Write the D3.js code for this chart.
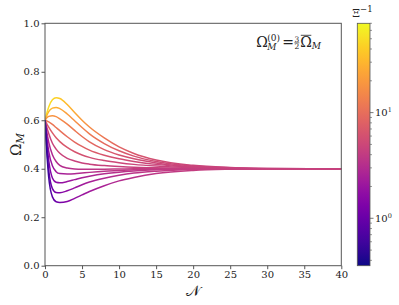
<!DOCTYPE html>
<html>
<head>
<script src="https://d3js.org/d3.v7.min.js"></script>
<style>
  body { margin: 0; background: #fff; }
  text { font-family: "DejaVu Serif", serif; fill: #222; }
  .tick-label { font-size: 10px; }
</style>
</head>
<body>
<svg width="399" height="305"></svg>
<script>
// N grid shared by every curve
const nGrid = [0, 0.25, 0.5, 1, 1.5, 2, 3, 4, 5, 6, 8, 10, 12, 15, 20, 25, 30, 40];

// Omega_M, top curve first
const omega1  = [0.600, 0.630, 0.655, 0.685, 0.693, 0.690, 0.665, 0.632, 0.600, 0.572, 0.527, 0.490, 0.463, 0.436, 0.414, 0.405, 0.401, 0.400];
const omega2  = [0.600, 0.620, 0.636, 0.650, 0.653, 0.648, 0.626, 0.598, 0.570, 0.544, 0.504, 0.474, 0.452, 0.430, 0.411, 0.404, 0.401, 0.400];
const omega3  = [0.600, 0.610, 0.616, 0.619, 0.615, 0.606, 0.584, 0.558, 0.533, 0.511, 0.479, 0.457, 0.441, 0.424, 0.408, 0.403, 0.400, 0.400];
const omega4  = [0.600, 0.597, 0.593, 0.583, 0.570, 0.557, 0.532, 0.510, 0.492, 0.477, 0.456, 0.441, 0.430, 0.418, 0.406, 0.402, 0.400, 0.400];
const omega5  = [0.600, 0.585, 0.572, 0.548, 0.528, 0.512, 0.488, 0.470, 0.457, 0.447, 0.434, 0.425, 0.418, 0.411, 0.404, 0.401, 0.400, 0.400];
const omega6  = [0.600, 0.570, 0.545, 0.505, 0.481, 0.464, 0.443, 0.432, 0.424, 0.419, 0.413, 0.409, 0.406, 0.404, 0.401, 0.400, 0.400, 0.400];
const omega7  = [0.600, 0.550, 0.510, 0.458, 0.430, 0.414, 0.403, 0.399, 0.398, 0.398, 0.398, 0.399, 0.400, 0.400, 0.400, 0.400, 0.400, 0.400];
const omega8  = [0.600, 0.530, 0.472, 0.412, 0.388, 0.380, 0.378, 0.379, 0.382, 0.385, 0.390, 0.393, 0.396, 0.398, 0.400, 0.400, 0.400, 0.400];
const omega9  = [0.600, 0.505, 0.435, 0.362, 0.344, 0.342, 0.347, 0.355, 0.363, 0.369, 0.379, 0.386, 0.391, 0.396, 0.399, 0.400, 0.400, 0.400];
const omega10 = [0.600, 0.485, 0.395, 0.318, 0.302, 0.301, 0.309, 0.321, 0.334, 0.345, 0.361, 0.373, 0.382, 0.390, 0.397, 0.399, 0.400, 0.400];
const omega11 = [0.600, 0.465, 0.365, 0.284, 0.264, 0.261, 0.265, 0.278, 0.292, 0.306, 0.330, 0.350, 0.364, 0.380, 0.393, 0.398, 0.400, 0.400];

// Xi^-1 along each curve (drives the colour)
const xiInv1  = [53, 52, 50, 46, 42, 38, 31, 25, 20, 16.5, 11.5, 8.5, 6.8, 5.6, 4.8, 4.6, 4.5, 4.5];
const xiInv2  = [32.5, 32, 31, 29, 27, 25, 21, 17.5, 14.5, 12.2, 9.2, 7.3, 6.1, 5.3, 4.7, 4.55, 4.5, 4.5];
const xiInv3  = [20, 19.8, 19.4, 18.5, 17.5, 16.3, 14, 12, 10.5, 9.2, 7.5, 6.3, 5.6, 5.0, 4.65, 4.55, 4.5, 4.5];
const xiInv4  = [12.2, 12.1, 12, 11.6, 11.2, 10.7, 9.8, 9.0, 8.2, 7.5, 6.5, 5.7, 5.2, 4.8, 4.6, 4.52, 4.5, 4.5];
const xiInv5  = [7.5, 7.5, 7.4, 7.3, 7.1, 7.0, 6.6, 6.3, 6.0, 5.7, 5.3, 5.0, 4.8, 4.65, 4.55, 4.5, 4.5, 4.5];
const xiInv6  = [4.6, 4.6, 4.6, 4.6, 4.6, 4.6, 4.6, 4.55, 4.55, 4.55, 4.5, 4.5, 4.5, 4.5, 4.5, 4.5, 4.5, 4.5];
const xiInv7  = [2.8, 2.8, 2.85, 2.9, 3.0, 3.05, 3.2, 3.35, 3.5, 3.6, 3.8, 4.0, 4.15, 4.3, 4.45, 4.5, 4.5, 4.5];
const xiInv8  = [1.7, 1.8, 1.9, 2.05, 2.2, 2.35, 2.6, 2.8, 3.0, 3.15, 3.45, 3.7, 3.9, 4.15, 4.35, 4.45, 4.5, 4.5];
const xiInv9  = [1.06, 1.15, 1.25, 1.45, 1.6, 1.75, 2.0, 2.25, 2.45, 2.65, 3.0, 3.35, 3.6, 3.95, 4.3, 4.45, 4.5, 4.5];
const xiInv10 = [0.65, 0.75, 0.85, 1.05, 1.25, 1.4, 1.7, 1.95, 2.2, 2.45, 2.85, 3.2, 3.5, 3.85, 4.25, 4.45, 4.5, 4.5];
const xiInv11 = [0.4, 0.5, 0.62, 0.85, 1.05, 1.2, 1.5, 1.75, 2.0, 2.2, 2.6, 3.0, 3.3, 3.7, 4.15, 4.4, 4.5, 4.5];

const xTicks = [0, 5, 10, 15, 20, 25, 30, 35, 40];
const yTicks = [0, 0.2, 0.4, 0.6, 0.8, 1.0];
const cbMajor = [1, 10];
const cbMinor = [0.4, 0.5, 0.6, 0.7, 0.8, 0.9, 2, 3, 4, 5, 6, 7, 8, 9, 20, 30, 40, 50, 60, 70];
const cbDomain = [0.356, 70];

const omegas = [omega1, omega2, omega3, omega4, omega5, omega6, omega7, omega8, omega9, omega10, omega11];
const xiInvs = [xiInv1, xiInv2, xiInv3, xiInv4, xiInv5, xiInv6, xiInv7, xiInv8, xiInv9, xiInv10, xiInv11];

const svg = d3.select("svg");
const defs = svg.append("defs");
const L = 45, T = 23.3, R = 341.3, B = 265.7;
const axisCol = "#555";

const x = d3.scaleLinear().domain([0, 40]).range([L, R]);
const y = d3.scaleLinear().domain([0, 1]).range([B, T]);
const color = d3.scaleSequentialLog(d3.interpolatePlasma).domain(cbDomain);

defs.append("clipPath").attr("id", "plot-clip")
  .append("rect").attr("x", L).attr("y", T).attr("width", R - L).attr("height", B - T);

// one horizontal gradient per curve, stops at the grid N values
omegas.forEach((om, i) => {
  const g = defs.append("linearGradient")
    .attr("id", "grad" + i)
    .attr("gradientUnits", "userSpaceOnUse")
    .attr("x1", x(0)).attr("x2", x(40)).attr("y1", 0).attr("y2", 0);
  g.selectAll("stop").data(nGrid).join("stop")
    .attr("offset", d => d / 40)
    .attr("stop-color", (d, j) => color(xiInvs[i][j]));
});

const line = d3.line()
  .x(d => x(d[0]))
  .y(d => y(d[1]))
  .curve(d3.curveMonotoneX);

svg.append("g").attr("clip-path", "url(#plot-clip)")
  .selectAll("path").data(omegas).join("path")
    .attr("d", om => line(nGrid.map((n, j) => [n, om[j]])))
    .attr("fill", "none")
    .attr("stroke", (d, i) => `url(#grad${i})`)
    .attr("stroke-width", 1.5);

// frame
svg.append("rect")
  .attr("x", L).attr("y", T).attr("width", R - L).attr("height", B - T)
  .attr("fill", "none").attr("stroke", axisCol).attr("stroke-width", 1);

// x axis
const xa = svg.append("g").attr("transform", `translate(0,${B})`)
  .call(d3.axisBottom(x).tickValues(xTicks).tickSize(3.5).tickPadding(2).tickFormat(d3.format("d")));
xa.select(".domain").remove();
xa.selectAll("line").attr("stroke", axisCol);
xa.selectAll("text").attr("class", "tick-label").attr("fill", "#222");

// y axis
const ya = svg.append("g").attr("transform", `translate(${L},0)`)
  .call(d3.axisLeft(y).tickValues(yTicks).tickSize(3.5).tickPadding(2).tickFormat(d3.format(".1f")));
ya.select(".domain").remove();
ya.selectAll("line").attr("stroke", axisCol);
ya.selectAll("text").attr("class", "tick-label").attr("fill", "#222");

// axis labels
svg.append("text")
  .attr("transform", `translate(21,${(T + B) / 2}) rotate(-90)`)
  .attr("text-anchor", "middle")
  .style("font-size", "15px")
  .html('Ω<tspan dy="3" font-style="italic" font-size="10.5px">M</tspan>');

svg.append("text")
  .attr("x", (L + R) / 2).attr("y", 296)
  .attr("text-anchor", "middle")
  .style("font-size", "15px")
  .text("𝒩");

// annotation  Omega_M^(0) = 3/2 Omega-bar_M
const ann = svg.append("g").attr("transform", `translate(${R - 85},${T + 23.5})`);
ann.append("text").attr("x", 0).attr("y", 0).style("font-size", "14px").text("Ω");
ann.append("text").attr("x", 11).attr("y", -6).style("font-size", "9px").text("(0)");
ann.append("text").attr("x", 11).attr("y", 3).style("font-size", "9px").style("font-style", "italic").text("M");
ann.append("text").attr("x", 26).attr("y", 0).style("font-size", "14px").text("=");
ann.append("text").attr("x", 40.5).attr("y", -5).attr("text-anchor", "middle").style("font-size", "7.5px").text("3");
ann.append("line").attr("x1", 38).attr("x2", 43).attr("y1", -4).attr("y2", -4).attr("stroke", "#222").attr("stroke-width", 0.6);
ann.append("text").attr("x", 40.5).attr("y", 2.5).attr("text-anchor", "middle").style("font-size", "7.5px").text("2");
ann.append("text").attr("x", 44).attr("y", 0).style("font-size", "14px").text("Ω");
ann.append("line").attr("x1", 44.5).attr("x2", 55).attr("y1", -11.5).attr("y2", -11.5).attr("stroke", "#222").attr("stroke-width", 0.8);
ann.append("text").attr("x", 55.5).attr("y", 2.5).style("font-size", "9px").style("font-style", "italic").text("M");

// colorbar
const cbX = 357.3, cbW = 12.7;
const cy = d3.scaleLog().domain(cbDomain).range([B, T]);
const cg = defs.append("linearGradient").attr("id", "cbgrad")
  .attr("x1", 0).attr("x2", 0).attr("y1", 1).attr("y2", 0);
cg.selectAll("stop").data(d3.range(0, 1.0001, 0.05)).join("stop")
  .attr("offset", d => d)
  .attr("stop-color", d => d3.interpolatePlasma(d));
svg.append("rect")
  .attr("x", cbX).attr("y", T).attr("width", cbW).attr("height", B - T)
  .attr("fill", "url(#cbgrad)").attr("stroke", axisCol).attr("stroke-width", 0.8);

const cb = svg.append("g");
cb.selectAll(".minor").data(cbMinor).join("line")
  .attr("x1", cbX + cbW).attr("x2", cbX + cbW + 2)
  .attr("y1", d => cy(d)).attr("y2", d => cy(d))
  .attr("stroke", axisCol).attr("stroke-width", 0.6);
cb.selectAll(".major").data(cbMajor).join("line")
  .attr("x1", cbX + cbW).attr("x2", cbX + cbW + 3.5)
  .attr("y1", d => cy(d)).attr("y2", d => cy(d))
  .attr("stroke", axisCol).attr("stroke-width", 0.8);
cb.selectAll("text").data(cbMajor).join("text")
  .attr("x", cbX + cbW + 5).attr("y", d => cy(d) + 3.5)
  .attr("class", "tick-label")
  .html(d => `10<tspan dy="-4" font-size="6.5px">${Math.round(Math.log10(d))}</tspan>`);

svg.append("text")
  .attr("x", cbX - 5).attr("y", 17)
  .style("font-size", "11px")
  .html('Ξ<tspan dy="-5" font-size="8.5px">−1</tspan>');
</script>
</body>
</html>
